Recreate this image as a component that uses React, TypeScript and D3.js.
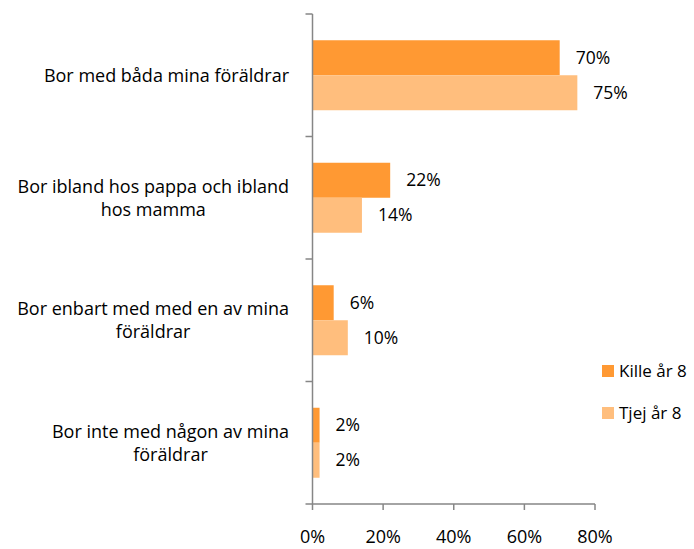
import { useEffect, useRef } from "react";
import * as d3 from "d3";

const categories = [
  "Bor med båda mina föräldrar",
  "Bor ibland hos pappa och ibland hos mamma",
  "Bor enbart med med en av mina föräldrar",
  "Bor inte med någon av mina föräldrar",
];
const seriesNames = ["Kille år 8", "Tjej år 8"];
const killeValues = [0.7, 0.22, 0.06, 0.02];
const tjejValues = [0.75, 0.14, 0.1, 0.02];
const xTicks = [0, 0.2, 0.4, 0.6, 0.8];
const colors = ["#FF9933", "#FFBE7D"];

const FONT = "'Open Sans', sans-serif";
const FS = 18;

const App = () => {
  const chartRef = useRef<SVGSVGElement | null>(null);

  useEffect(() => {
    const svg = d3.select(chartRef.current);
    svg.selectAll("*").remove();

    const width = 694;
    const height = 549;
    const margin = { top: 14, left: 312.5, right: 99, bottom: 45 };

    const x = d3
      .scaleLinear()
      .domain([0, 0.8])
      .range([margin.left, width - margin.right]);

    const y = d3
      .scaleBand()
      .domain(categories)
      .range([margin.top, height - margin.bottom])
      .paddingInner(0)
      .paddingOuter(0);

    const y1 = d3
      .scaleBand()
      .domain(seriesNames)
      .range([0, y.bandwidth()])
      .paddingInner(0)
      .paddingOuter(0.75);

    const rows = categories.map((c, i) => ({
      name: c,
      values: [killeValues[i], tjejValues[i]],
    }));

    // bars
    const groups = svg
      .append("g")
      .selectAll("g")
      .data(rows)
      .join("g")
      .attr("transform", (d) => `translate(0,${y(d.name)})`);

    groups
      .selectAll("rect")
      .data((d) => d.values.map((v, k) => ({ key: seriesNames[k], v, k })))
      .join("rect")
      .attr("x", x(0))
      .attr("y", (d) => y1(d.key)!)
      .attr("width", (d) => x(d.v) - x(0))
      .attr("height", y1.bandwidth())
      .attr("fill", (d) => colors[d.k]);

    groups
      .selectAll("text")
      .data((d) => d.values.map((v, k) => ({ key: seriesNames[k], v, k })))
      .join("text")
      .attr("x", (d) => x(d.v) + 16)
      .attr("y", (d) => y1(d.key)! + y1.bandwidth() / 2)
      .attr("dy", "0.35em")
      .attr("font-family", FONT)
      .attr("font-size", FS - 0.5)
      .attr("fill", "#000")
      .text((d) => d3.format(".0%")(d.v));

    // y axis
    const yAxis = svg.append("g");
    yAxis
      .append("line")
      .attr("x1", x(0))
      .attr("x2", x(0))
      .attr("y1", margin.top)
      .attr("y2", height - margin.bottom)
      .attr("stroke", "#868686")
      .attr("stroke-width", 1.5);
    const yTickPos = [...categories.map((c) => y(c)!), height - margin.bottom];
    yAxis
      .selectAll("line.tick")
      .data(yTickPos)
      .join("line")
      .attr("class", "tick")
      .attr("x1", x(0) - 7)
      .attr("x2", x(0))
      .attr("y1", (d) => d)
      .attr("y2", (d) => d)
      .attr("stroke", "#868686")
      .attr("stroke-width", 1.5);

    // category labels, wrapped, centered lines, block right aligned
    const labelRight = 289;
    const maxWidth = 284;
    const lineHeight = 23;
    categories.forEach((c) => {
      const t = svg
        .append("text")
        .attr("font-family", FONT)
        .attr("font-size", FS)
        .attr("fill", "#000")
        .attr("text-anchor", "middle");
      const words = c.split(" ");
      const lines: string[] = [];
      let cur: string[] = [];
      const probe = t.append("tspan");
      words.forEach((w) => {
        const test = [...cur, w].join(" ");
        probe.text(test);
        if ((probe.node() as SVGTSpanElement).getComputedTextLength() > maxWidth && cur.length) {
          lines.push(cur.join(" "));
          cur = [w];
        } else {
          cur.push(w);
        }
      });
      lines.push(cur.join(" "));
      let widest = 0;
      lines.forEach((l) => {
        probe.text(l);
        widest = Math.max(widest, (probe.node() as SVGTSpanElement).getComputedTextLength());
      });
      probe.remove();
      const cx = labelRight - widest / 2;
      const cy = y(c)! + y.bandwidth() / 2;
      const startY = cy - ((lines.length - 1) * lineHeight) / 2;
      lines.forEach((l, i) => {
        t.append("tspan")
          .attr("x", cx)
          .attr("y", startY + i * lineHeight)
          .attr("dy", "0.35em")
          .text(l);
      });
    });

    // x axis
    const xAxis = svg
      .append("g")
      .attr("transform", `translate(0,${height - margin.bottom})`);
    xAxis
      .append("line")
      .attr("x1", x(0))
      .attr("x2", x(0.8))
      .attr("stroke", "#868686")
      .attr("stroke-width", 1.5);
    xAxis
      .selectAll("line.tick")
      .data(xTicks)
      .join("line")
      .attr("class", "tick")
      .attr("x1", (d) => x(d))
      .attr("x2", (d) => x(d))
      .attr("y1", 0)
      .attr("y2", 6)
      .attr("stroke", "#868686")
      .attr("stroke-width", 1.5);
    xAxis
      .selectAll("text")
      .data(xTicks)
      .join("text")
      .attr("x", (d) => x(d))
      .attr("y", 39)
      .attr("text-anchor", "middle")
      .attr("font-family", FONT)
      .attr("font-size", FS)
      .attr("fill", "#000")
      .text((d) => d3.format(".0%")(d));

    // legend
    const legend = svg
      .append("g")
      .selectAll("g")
      .data(seriesNames)
      .join("g")
      .attr("transform", (d, i) => `translate(602,${365 + i * 42})`);
    legend
      .append("rect")
      .attr("width", 12)
      .attr("height", 12)
      .attr("fill", (d, i) => colors[i]);
    legend
      .append("text")
      .attr("x", 17)
      .attr("y", 6)
      .attr("dy", "0.35em")
      .attr("font-family", FONT)
      .attr("font-size", FS - 1)
      .attr("fill", "#000")
      .text((d) => d);

    return () => {
      svg.selectAll("*").remove();
    };
  }, []);

  return (
    <svg
      ref={chartRef}
      width={694}
      height={549}
      style={{ position: "absolute", left: 0, top: 0, background: "#fff" }}
    />
  );
};

export default App;
